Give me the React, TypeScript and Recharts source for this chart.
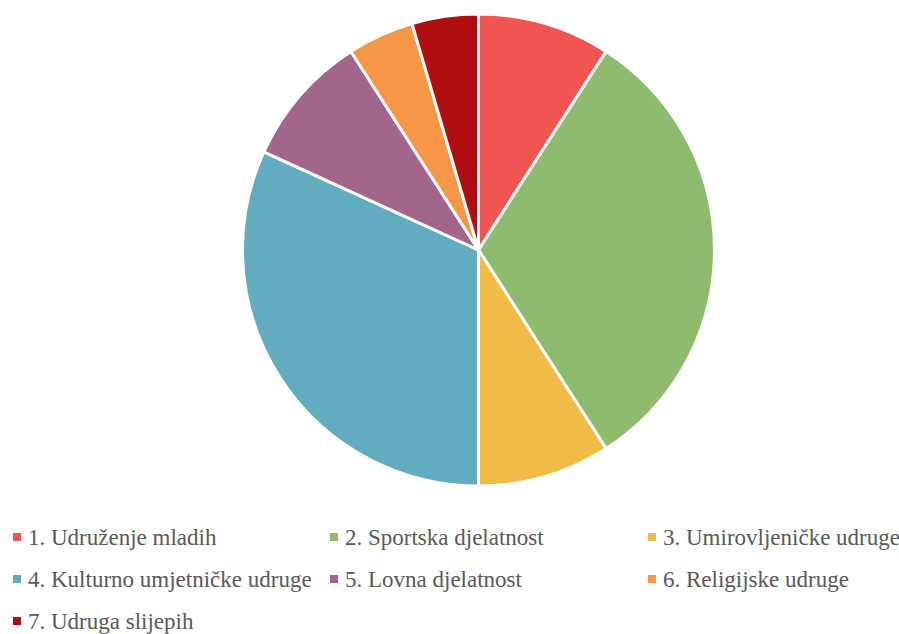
import { PieChart, Pie, Cell } from "recharts";

const categories = [
  "1. Udruženje mladih",
  "2. Sportska djelatnost",
  "3. Umirovljeničke udruge",
  "4. Kulturno umjetničke udruge",
  "5. Lovna djelatnost",
  "6. Religijske udruge",
  "7. Udruga slijepih",
];
const counts = [2, 7, 2, 7, 2, 1, 1];
const COLORS = ["#F15451", "#8FBB6F", "#F0BB47", "#62ACC0", "#A2668A", "#F79646", "#B00E10"];

const data = categories.map((name, i) => ({ name, value: counts[i] }));

const COL_X = [13, 330, 648];
const ROW_Y = [537, 579, 621];

export default function App() {
  return (
    <div style={{ position: "absolute", left: 0, top: 0, width: 899, height: 634, background: "#fff" }}>
      <PieChart width={899} height={500} margin={{ top: 0, right: 0, bottom: 0, left: 0 }}>
        <Pie
          data={data}
          dataKey="value"
          cx={478.5}
          cy={250}
          outerRadius={236}
          startAngle={90}
          endAngle={-270}
          stroke="#fff"
          strokeWidth={3}
          isAnimationActive={false}
        >
          {data.map((entry, index) => (
            <Cell key={`cell-${index}`} fill={COLORS[index]} />
          ))}
        </Pie>
      </PieChart>
      <svg width={899} height={134} style={{ position: "absolute", left: 0, top: 500 }}>
        {categories.map((name, i) => {
          const x = COL_X[i % 3];
          const y = ROW_Y[Math.floor(i / 3)] - 500;
          return (
            <g key={name}>
              <rect x={x} y={y - 4} width={8} height={8} fill={COLORS[i]} />
              <text
                x={x + 15}
                y={y}
                dy="0.35em"
                fontFamily="Liberation Serif"
                fontSize={23}
                fill="#595959"
              >
                {name}
              </text>
            </g>
          );
        })}
      </svg>
    </div>
  );
}
